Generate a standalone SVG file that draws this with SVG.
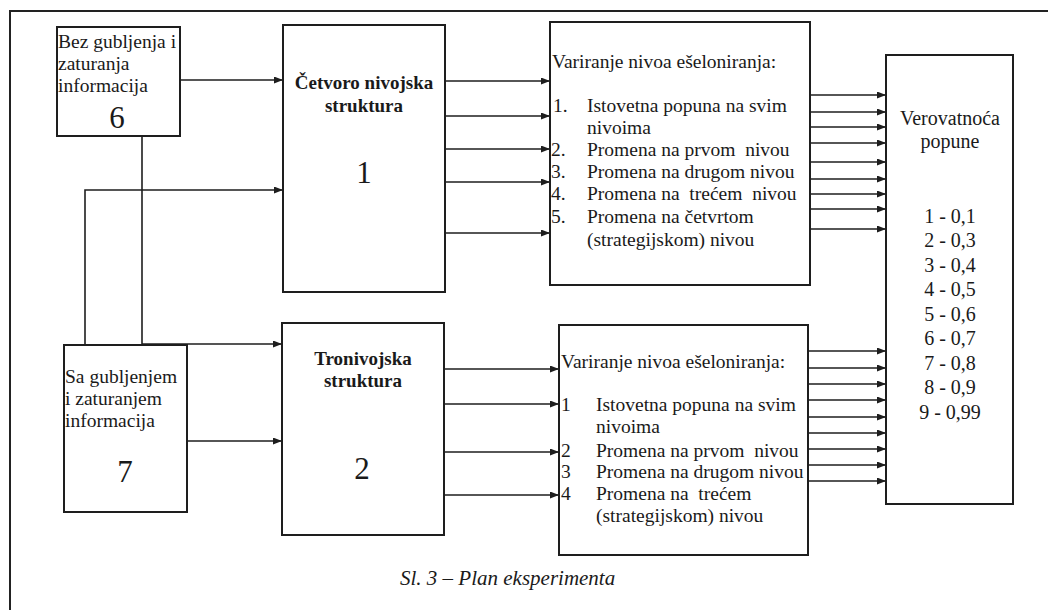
<svg xmlns="http://www.w3.org/2000/svg" width="1048" height="610" viewBox="0 0 1048 610">
  <style>
    .frame { fill: none; stroke: #222; stroke-width: 2; }
    .box { fill: #fff; stroke: #1e1e1e; stroke-width: 2; }
    .wire { fill: none; stroke: #1e1e1e; stroke-width: 1.6; }
    .arrow { fill: none; stroke: #1e1e1e; stroke-width: 1.6; marker-end: url(#head); }
    .t { font-family: "Liberation Serif", "Times New Roman", serif; font-size: 19.5px; fill: #1a1a1a; }
    .b { font-family: "Liberation Serif", "Times New Roman", serif; font-size: 19px; font-weight: bold; fill: #1a1a1a; }
    .big { font-family: "Liberation Serif", "Times New Roman", serif; font-size: 31px; fill: #1a1a1a; }
    .num { font-family: "Liberation Serif", "Times New Roman", serif; font-size: 20px; fill: #1a1a1a; }
    .cap { font-family: "Liberation Serif", "Times New Roman", serif; font-size: 21px; font-style: italic; fill: #1a1a1a; }
    .c { text-anchor: middle; }
  </style>
  <defs>
    <marker id="head" markerUnits="userSpaceOnUse" markerWidth="10" markerHeight="8" refX="9" refY="3.5" orient="auto">
      <path d="M0,0 L9,3.5 L0,7 z" fill="#1e1e1e"/>
    </marker>
  </defs>

  <rect width="1048" height="610" fill="#fff"/>

  <!-- page frame: top and left rule -->
  <path class="frame" d="M10,610 L10,11 L1048,11"/>

  <!-- connectors -->
  <g id="connectors">
    <!-- inputs into the four-level structure -->
    <path class="arrow" d="M180,80 L283,80"/>
    <path class="arrow" d="M85,345 L85,190 L283,190"/>
    <!-- inputs into the three-level structure -->
    <path class="arrow" d="M142,136 L142,344 L282,344"/>
    <path class="arrow" d="M187,441 L282,441"/>
    <!-- four-level structure to its variants -->
    <path class="arrow" d="M445,81 L550,81"/>
    <path class="arrow" d="M445,116 L550,116"/>
    <path class="arrow" d="M445,149 L550,149"/>
    <path class="arrow" d="M445,182 L550,182"/>
    <path class="arrow" d="M445,233 L550,233"/>
    <!-- three-level structure to its variants -->
    <path class="arrow" d="M444,369 L559,369"/>
    <path class="arrow" d="M444,404 L559,404"/>
    <path class="arrow" d="M444,452 L559,452"/>
    <path class="arrow" d="M444,495 L559,495"/>
    <!-- upper variants to probability -->
    <path class="arrow" d="M810,95 L886,95"/>
    <path class="arrow" d="M810,112 L886,112"/>
    <path class="arrow" d="M810,127 L886,127"/>
    <path class="arrow" d="M810,143 L886,143"/>
    <path class="arrow" d="M810,162 L886,162"/>
    <path class="arrow" d="M810,179 L886,179"/>
    <path class="arrow" d="M810,194 L886,194"/>
    <path class="arrow" d="M810,209 L886,209"/>
    <path class="arrow" d="M810,229 L886,229"/>
    <!-- lower variants to probability -->
    <path class="arrow" d="M808,351 L886,351"/>
    <path class="arrow" d="M808,368 L886,368"/>
    <path class="arrow" d="M808,384 L886,384"/>
    <path class="arrow" d="M808,400 L886,400"/>
    <path class="arrow" d="M808,417 L886,417"/>
    <path class="arrow" d="M808,433 L886,433"/>
    <path class="arrow" d="M808,449 L886,449"/>
    <path class="arrow" d="M808,465 L886,465"/>
    <path class="arrow" d="M808,481 L886,481"/>
  </g>

  <!-- node 6 -->
  <g id="node-6">
    <rect class="box" x="57" y="27" width="123" height="109"/>
    <text class="t" x="58" y="48">Bez gubljenja i</text>
    <text class="t" x="58" y="70">zaturanja</text>
    <text class="t" x="58" y="92">informacija</text>
    <text class="big c" x="117" y="128">6</text>
  </g>

  <!-- node 7 -->
  <g id="node-7">
    <rect class="box" x="64" y="345" width="123" height="167"/>
    <text class="t" x="65" y="383">Sa gubljenjem</text>
    <text class="t" x="65" y="405">i zaturanjem</text>
    <text class="t" x="65" y="427">informacija</text>
    <text class="big c" x="125" y="482">7</text>
  </g>

  <!-- node 1 -->
  <g id="node-1">
    <rect class="box" x="283" y="25" width="162" height="267"/>
    <text class="b c" x="364" y="89">Četvoro nivojska</text>
    <text class="b c" x="364" y="112">struktura</text>
    <text class="big c" x="364" y="183">1</text>
  </g>

  <!-- node 2 -->
  <g id="node-2">
    <rect class="box" x="282" y="323" width="162" height="212"/>
    <text class="b c" x="363" y="365">Tronivojska</text>
    <text class="b c" x="363" y="387">struktura</text>
    <text class="big c" x="362" y="479">2</text>
  </g>

  <!-- upper variants -->
  <g id="variants-4">
    <rect class="box" x="550" y="22" width="260" height="263"/>
    <text class="t" x="552" y="68">Variranje nivoa ešeloniranja:</text>
    <text class="t" x="553" y="112">1.</text>
    <text class="t" x="587" y="112">Istovetna popuna na svim</text>
    <text class="t" x="587" y="134">nivoima</text>
    <text class="t" x="551" y="156">2.</text>
    <text class="t" x="587" y="156" xml:space="preserve">Promena na prvom  nivou</text>
    <text class="t" x="551" y="178">3.</text>
    <text class="t" x="587" y="178">Promena na drugom nivou</text>
    <text class="t" x="551" y="200">4.</text>
    <text class="t" x="587" y="200" xml:space="preserve">Promena na  trećem  nivou</text>
    <text class="t" x="551" y="223">5.</text>
    <text class="t" x="587" y="223">Promena na četvrtom</text>
    <text class="t" x="587" y="246">(strategijskom) nivou</text>
  </g>

  <!-- lower variants -->
  <g id="variants-3">
    <rect class="box" x="559" y="325" width="249" height="230"/>
    <text class="t" x="561" y="368">Variranje nivoa ešeloniranja:</text>
    <text class="t" x="561" y="411">1</text>
    <text class="t" x="596" y="411">Istovetna popuna na svim</text>
    <text class="t" x="596" y="433">nivoima</text>
    <text class="t" x="561" y="457">2</text>
    <text class="t" x="596" y="457" xml:space="preserve">Promena na prvom  nivou</text>
    <text class="t" x="561" y="478">3</text>
    <text class="t" x="596" y="478">Promena na drugom nivou</text>
    <text class="t" x="561" y="500">4</text>
    <text class="t" x="596" y="500" xml:space="preserve">Promena na  trećem</text>
    <text class="t" x="596" y="522">(strategijskom) nivou</text>
  </g>

  <!-- probability -->
  <g id="probability">
    <rect class="box" x="886" y="55" width="127" height="449"/>
    <text class="num c" x="950" y="125">Verovatnoća</text>
    <text class="num c" x="950" y="148">popune</text>
    <text class="num c" x="950" y="223">1 - 0,1</text>
    <text class="num c" x="950" y="247">2 - 0,3</text>
    <text class="num c" x="950" y="272">3 - 0,4</text>
    <text class="num c" x="950" y="296">4 - 0,5</text>
    <text class="num c" x="950" y="321">5 - 0,6</text>
    <text class="num c" x="950" y="345">6 - 0,7</text>
    <text class="num c" x="950" y="370">7 - 0,8</text>
    <text class="num c" x="950" y="394">8 - 0,9</text>
    <text class="num c" x="950" y="419">9 - 0,99</text>
  </g>

  <!-- caption -->
  <text class="cap" x="400" y="585">Sl. 3 – Plan eksperimenta</text>
</svg>
